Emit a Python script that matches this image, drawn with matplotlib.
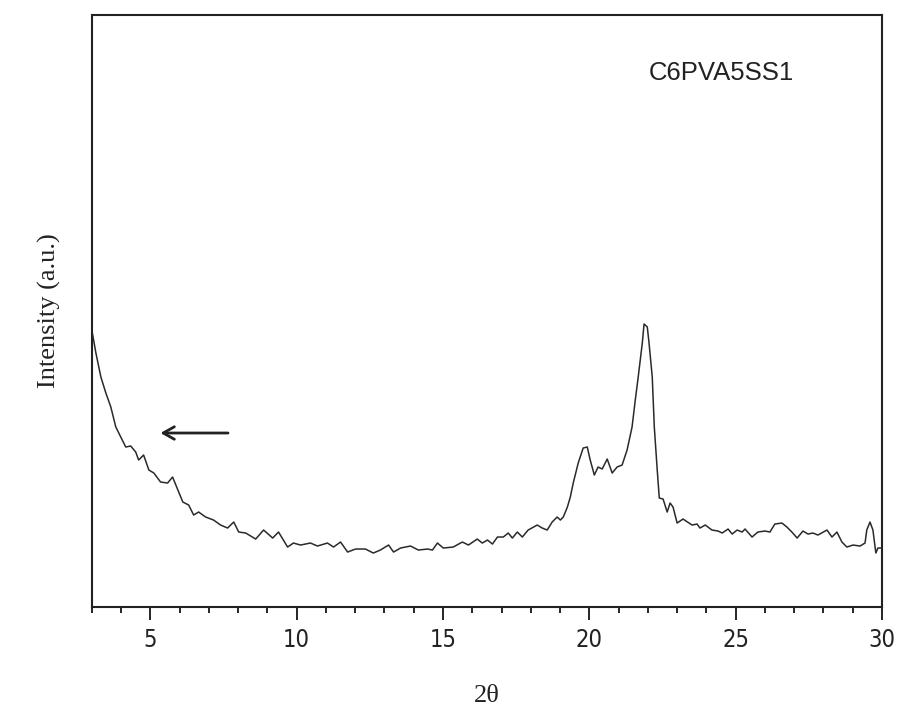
import matplotlib
matplotlib.use("Agg")
import matplotlib.pyplot as plt
from matplotlib.ticker import MultipleLocator

# XRD pattern (2-theta, arbitrary intensity)
two_theta = [
    3.00, 3.14, 3.31, 3.48, 3.65, 3.82, 3.99, 4.16, 4.33, 4.50, 4.60, 4.77, 4.95,
    5.12, 5.35, 5.59, 5.76, 5.94, 6.11, 6.31, 6.48, 6.65, 6.89, 7.16, 7.40, 7.64,
    7.85, 8.02, 8.26, 8.49, 8.60, 8.87, 9.18, 9.38, 9.69, 9.89, 10.13, 10.47,
    10.71, 11.05, 11.26, 11.50, 11.74, 12.01, 12.35, 12.62, 12.86, 13.14, 13.31,
    13.55, 13.89, 14.16, 14.47, 14.64, 14.81, 15.01, 15.35, 15.66, 15.87, 16.17,
    16.34, 16.52, 16.69, 16.86, 17.06, 17.23, 17.37, 17.54, 17.71, 17.91, 18.22,
    18.39, 18.56, 18.73, 18.90, 19.01, 19.11, 19.25, 19.35, 19.45, 19.62, 19.79,
    19.93, 20.03, 20.17, 20.30, 20.44, 20.61, 20.78, 20.95, 21.12, 21.29, 21.46,
    21.57, 21.67, 21.81, 21.87, 21.98, 22.04, 22.15, 22.22, 22.32, 22.39, 22.52,
    22.66, 22.76, 22.86, 23.00, 23.20, 23.51, 23.68, 23.78, 23.96, 24.19, 24.40,
    24.54, 24.74, 24.88, 25.05, 25.22, 25.32, 25.56, 25.76, 26.00, 26.17, 26.34,
    26.58, 26.75, 26.92, 27.10, 27.30, 27.47, 27.64, 27.81, 28.12, 28.29, 28.46,
    28.63, 28.80, 29.01, 29.25, 29.42, 29.48, 29.59, 29.69, 29.79, 29.86, 30.00,
]
intensity = [
    277, 254, 230, 214, 200, 180, 170, 160, 161, 155, 147, 152, 137,
    134, 125, 124, 130, 117, 105, 102, 92, 95, 90, 87, 82, 79,
    85, 75, 74, 70, 68, 77, 69, 75, 60, 64, 62, 64,
    61, 64, 60, 65, 55, 58, 58, 54, 57, 62, 55,
    59, 61, 57, 58, 57, 64, 59, 60, 65, 62, 68,
    64, 67, 63, 70, 70, 74, 69, 75, 70, 77, 82,
    79, 77, 85, 90, 87, 90, 100, 110, 124, 144, 159,
    160, 147, 132, 140, 138, 148, 134, 140, 142, 157, 180,
    207, 230, 264, 283, 280, 264, 230, 180, 137, 109, 108,
    95, 104, 100, 84, 88, 82, 83, 79, 82, 77, 76,
    74, 78, 73, 77, 75, 78, 70, 75, 76, 75, 83,
    84, 80, 75, 69, 76, 73, 74, 72, 77, 70, 75,
    65, 60, 62, 61, 64, 77, 85, 77, 54, 59, 59,
]

sample_name = "C6PVA5SS1"
arrow_from = (7.75, 174)
arrow_to = (5.25, 174)

fig = plt.figure(figsize=(9.0, 7.1), dpi=100)
ax = fig.add_axes([0.102, 0.145, 0.878, 0.834])

ax.plot(two_theta, intensity, color="#2a2a2a", lw=1.1)
ax.set_xlim(3, 30)
ax.set_ylim(0, 592)

ax.xaxis.set_major_locator(MultipleLocator(5))
ax.xaxis.set_minor_locator(MultipleLocator(1))
ax.tick_params(axis="x", which="major", direction="out", length=9, width=1.2,
               pad=6, labelsize=17)
ax.tick_params(axis="x", which="minor", direction="out", length=4.5, width=1.2)
ax.set_yticks([])
for lab in ax.get_xticklabels():
    lab.set_family("DejaVu Sans")
    lab.set_stretch("condensed")
    lab.set_color("#222222")
for sp in ax.spines.values():
    sp.set_linewidth(1.5)
    sp.set_color("#222222")

ax.annotate("", xy=arrow_to, xytext=arrow_from,
            arrowprops=dict(arrowstyle="->,head_length=0.8,head_width=0.45",
                            lw=2, color="#222222"))

ax.text(0.705, 0.89, sample_name, transform=ax.transAxes, fontsize=18.5,
        family="Liberation Sans", color="#222222")

ax.set_xlabel("2θ", family="Liberation Serif", fontsize=19, labelpad=24,
              color="#222222")
ax.set_ylabel("Intensity (a.u.)", family="Liberation Serif", fontsize=19,
              labelpad=22, color="#222222")

fig.savefig("out.png", dpi=100)
